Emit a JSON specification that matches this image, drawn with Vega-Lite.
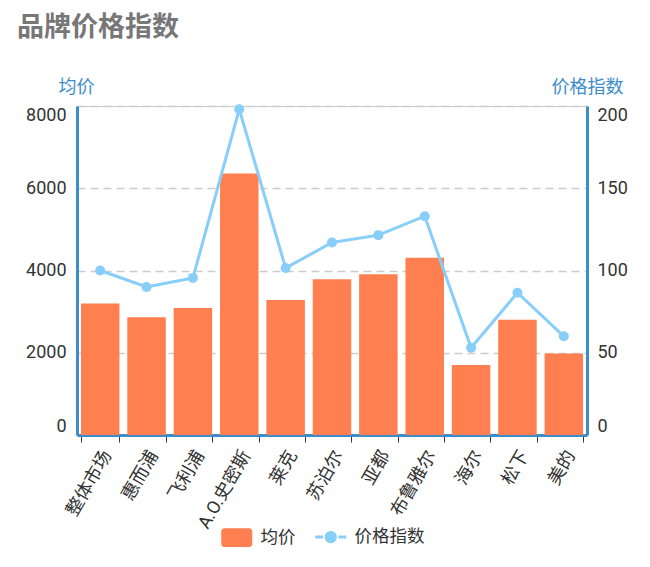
{
  "$schema": "https://vega.github.io/schema/vega-lite/v6.json",
  "autosize": {"type": "none"},
  "padding": {"left": 77, "top": 106, "right": 63, "bottom": 132},
  "width": 510,
  "height": 329,
  "background": "white",
  "title": {
    "text": "品牌价格指数",
    "anchor": "start",
    "frame": "group",
    "font": "Noto Sans CJK SC",
    "fontSize": 27,
    "fontWeight": "bold",
    "color": "#777777",
    "dx": -60,
    "offset": 36
  },
  "config": {
    "font": "Roboto, 'Noto Sans CJK SC'",
    "view": {"stroke": "#cccccc", "strokeWidth": 1}
  },
  "data": {
    "values": [
      {"brand": "整体市场", "avg": 3200, "index": 100},
      {"brand": "惠而浦", "avg": 2865, "index": 90},
      {"brand": "飞利浦", "avg": 3090, "index": 95.5},
      {"brand": "A.O.史密斯", "avg": 6360, "index": 198},
      {"brand": "莱克", "avg": 3280, "index": 101.5},
      {"brand": "苏泊尔", "avg": 3790, "index": 117},
      {"brand": "亚都", "avg": 3910, "index": 121.5},
      {"brand": "布鲁雅尔", "avg": 4310, "index": 133},
      {"brand": "海尔", "avg": 1705, "index": 53},
      {"brand": "松下", "avg": 2800, "index": 86.5},
      {"brand": "美的", "avg": 1980, "index": 60}
    ]
  },
  "encoding": {
    "x": {
      "field": "brand",
      "type": "nominal",
      "sort": null,
      "scale": {"paddingInner": 0.17, "paddingOuter": 0.085},
      "axis": {
        "title": null,
        "labelAngle": -60,
        "labelFontSize": 18,
        "labelColor": "#333333",
        "labelPadding": 10,
        "labelOffset": 7,
        "tickBand": "extent",
        "tickColor": "#333333",
        "tickSize": 7,
        "domainColor": "#3c8dcb",
        "domainWidth": 3
      }
    }
  },
  "layer": [
    {
      "mark": {"type": "bar"},
      "encoding": {
        "y": {
          "field": "avg",
          "type": "quantitative",
          "scale": {"domain": [0, 8000], "nice": false},
          "axis": {
            "title": "均价",
            "titleAngle": 0,
            "titleX": -1,
            "titleY": -19,
            "titleAlign": "center",
            "titleBaseline": "middle",
            "titleFontSize": 18,
            "titleFontWeight": "normal",
            "titleColor": "#3c8dcb",
            "values": [0, 2000, 4000, 6000, 8000],
            "format": "d",
            "labelFlush": true,
            "labelFontSize": 18,
            "labelColor": "#333333",
            "labelPadding": 11,
            "ticks": false,
            "domainColor": "#3c8dcb",
            "domainWidth": 3,
            "grid": true,
            "gridColor": "#cccccc",
            "gridWidth": 1.5,
            "gridDash": [8, 5]
          }
        },
        "color": {
          "datum": "均价",
          "type": "nominal",
          "scale": {"domain": ["均价", "价格指数"], "range": ["#FF7F50", "#87CEFA"]},
          "legend": {
            "title": null,
            "orient": "none",
            "direction": "horizontal",
            "legendX": 151,
            "legendY": 422,
            "labelFontSize": 17.5,
            "labelColor": "#333333",
            "labelOffset": 15,
            "columnPadding": 13,
            "symbolSize": 961,
            "encode": {
              "symbols": {
                "update": {
                  "shape": {"signal": "datum.value === '均价' ? 'M-0.8,-0.61H0.8A0.2,0.2 0 0 1 1,-0.41V0.41A0.2,0.2 0 0 1 0.8,0.61H-0.8A0.2,0.2 0 0 1 -1,0.41V-0.41A0.2,0.2 0 0 1 -0.8,-0.61Z' : 'M-1,0H-0.5M0.5,0H1M-0.3,0A0.3,0.3 0 1 1 0.3,0A0.3,0.3 0 1 1 -0.3,0Z'"},
                  "fill": {"signal": "datum.value === '均价' ? '#FF7F50' : '#87CEFA'"},
                  "stroke": {"signal": "datum.value === '均价' ? '#FF7F50' : '#87CEFA'"},
                  "strokeWidth": {"signal": "datum.value === '均价' ? 0 : 3"},
                  "opacity": {"value": 1},
                  "fillOpacity": {"value": 1}
                }
              }
            }
          }
        }
      }
    },
    {
      "mark": {"type": "line", "strokeWidth": 3, "point": {"filled": true, "size": 100, "opacity": 1}},
      "encoding": {
        "y": {
          "field": "index",
          "type": "quantitative",
          "scale": {"domain": [0, 200], "nice": false},
          "axis": {
            "orient": "right",
            "title": "价格指数",
            "titleAngle": 0,
            "titleX": 0,
            "titleY": -19,
            "titleAlign": "center",
            "titleBaseline": "middle",
            "titleFontSize": 18,
            "titleFontWeight": "normal",
            "titleColor": "#3c8dcb",
            "values": [0, 50, 100, 150, 200],
            "labelFlush": true,
            "labelFontSize": 18,
            "labelColor": "#333333",
            "labelPadding": 10,
            "ticks": false,
            "domainColor": "#3c8dcb",
            "domainWidth": 3,
            "grid": false
          }
        },
        "color": {"datum": "价格指数", "type": "nominal"}
      }
    }
  ],
  "resolve": {"scale": {"y": "independent"}}
}
